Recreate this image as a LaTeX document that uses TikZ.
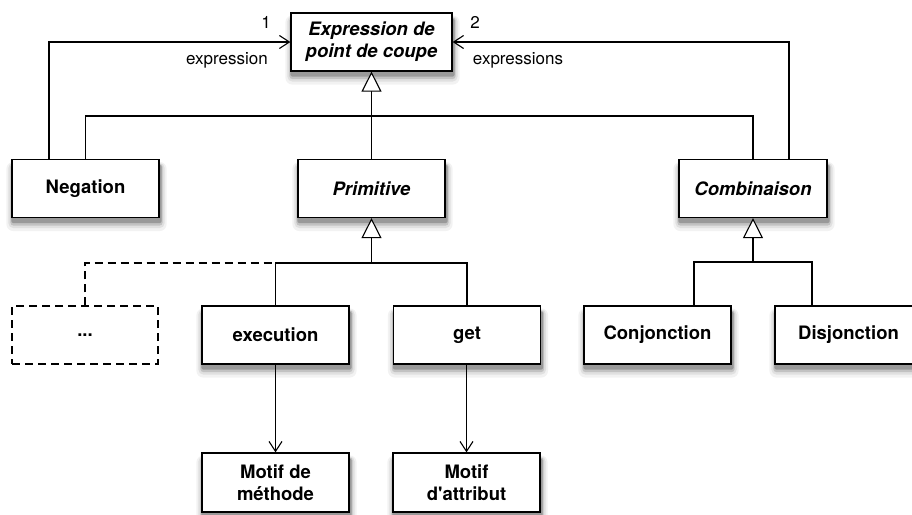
\documentclass[tikz,border=0pt]{standalone}
\usepackage{fontspec}
\setmainfont[Ligatures=TeXOff]{TeX Gyre Heros}
\usetikzlibrary{arrows.meta,backgrounds}
\begin{document}
\begin{tikzpicture}[x=1pt,y=-1pt,
  cls/.style={draw, line width=1.2pt, fill=white, minimum width=147pt, minimum height=58pt, inner sep=0pt, align=center,
    font=\fontsize{18.5}{22}\selectfont\bfseries},
  abs/.style={cls, font=\fontsize{18.5}{22}\selectfont\bfseries\itshape},
  ghost/.style={draw, line width=1.2pt, dash pattern=on 8pt off 5pt, minimum width=146pt, minimum height=58pt, inner sep=0pt,
    font=\fontsize{18.5}{22}\selectfont\bfseries},
  conn/.style={line width=1.1pt},
  ghostline/.style={line width=1.1pt, dash pattern=on 8pt off 5pt},
  gen/.style={conn, -{Triangle[fill=white, length=20pt, width=20pt, line width=1.1pt]}},
  assoc/.style={conn, -{Straight Barb[length=10pt, width=13pt, line width=1.1pt]}},
  lbl/.style={font=\fontsize{17}{20}\selectfont, inner sep=0pt},
  sh1/.style={fill=black!5, rounded corners=7pt},
  sh2/.style={fill=black!12, rounded corners=5pt},
  sh3/.style={fill=black!24, rounded corners=3pt},
  sh4/.style={fill=black!40, rounded corners=2pt}]
\useasboundingbox (0,0) rectangle (912,514);
% nodes
\node[abs, minimum width=161pt] (top) at (371.5,42) {Expression de\\point de coupe};
\node[cls] (neg) at (85.5,188.5) {Negation};
\node[abs] (prim) at (371.5,188.5) {Primitive};
\node[abs, minimum width=148pt] (comb) at (753,188.5) {Combinaison};
\node[ghost] (dots) at (85,335) {...};
\node[cls] (exec) at (275.5,335) {execution};
\node[cls] (get) at (467,335) {get};
\node[cls] (conj) at (657.5,335) {Conjonction};
\node[cls] (disj) at (848.5,335) {Disjonction};
\node[cls, minimum height=59pt] (mm) at (275.5,482.5) {Motif de\\méthode};
\node[cls, minimum height=59pt] (ma) at (466.5,482.5) {Motif\\d'attribut};
% shadows
\begin{pgfonlayer}{background}
\foreach \n in {top,neg,prim,comb,exec,get,conj,disj,mm,ma}{
  \fill[sh1] ([shift={(-5,3)}]\n.north west) rectangle ([shift={(7,13)}]\n.south east);
  \fill[sh2] ([shift={(-3,4)}]\n.north west) rectangle ([shift={(5,10)}]\n.south east);
  \fill[sh3] ([shift={(-1,5)}]\n.north west) rectangle ([shift={(3,7.5)}]\n.south east);
  \fill[sh4] ([shift={(0,6)}]\n.north west) rectangle ([shift={(2,5)}]\n.south east);
}
\end{pgfonlayer}
% labels
\node[lbl] (l1) at (266,22) {1};
\node[lbl] (l2) at (475,22) {2};
\node[lbl] (le) at (227,60) {expression};
\node[lbl] (les) at (518,60) {expressions};
% connectors
\coordinate (b1) at (371.5,116);
\draw[conn] (neg.north) |- (b1) -| (comb.north);
\draw[gen] (prim.north) -- (top.south);
\draw[assoc] ([xshift=-36.5pt]neg.north) |- (top.west);
\draw[assoc] ([xshift=36pt]comb.north) |- (top.east);
\coordinate (b2) at (371.5,263);
\draw[ghostline] (dots.north) |- (exec.north |- b2);
\draw[conn] (exec.north) |- (b2) -| (get.north);
\draw[gen] (b2) -- (prim.south);
\coordinate (b3) at (753,262);
\draw[conn] ([xshift=36.5pt]conj.north) |- (b3) -| ([xshift=-36.5pt]disj.north);
\draw[gen] (b3) -- (comb.south);
\draw[assoc] (exec.south) -- (mm.north);
\draw[assoc] (get.south -| ma.north) -- (ma.north);
\end{tikzpicture}
\end{document}
